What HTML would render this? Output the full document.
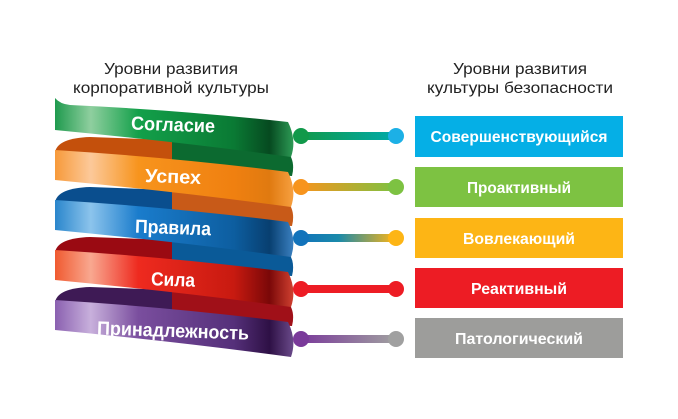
<!DOCTYPE html>
<html><head><meta charset="utf-8"><style>
html,body{margin:0;padding:0;background:#fff;width:678px;height:419px;overflow:hidden}
svg{display:block}
text{font-family:"Liberation Sans",sans-serif}
</style></head><body>
<svg width="678" height="419" viewBox="0 0 678 419" xmlns="http://www.w3.org/2000/svg">
<defs>
<linearGradient id="g0" x1="0" x2="1"><stop offset="0" stop-color="#1f9a4e"/><stop offset="0.15" stop-color="#8fcf9f"/><stop offset="0.35" stop-color="#13a04a"/><stop offset="0.75" stop-color="#0a7a34"/><stop offset="0.9" stop-color="#064a20"/><stop offset="1" stop-color="#2d9a55"/></linearGradient>
<linearGradient id="g1" x1="0" x2="1"><stop offset="0" stop-color="#f79a3a"/><stop offset="0.15" stop-color="#fcc99a"/><stop offset="0.35" stop-color="#f7941d"/><stop offset="0.75" stop-color="#f08010"/><stop offset="0.9" stop-color="#e07a10"/><stop offset="1" stop-color="#f7a040"/></linearGradient>
<linearGradient id="g2" x1="0" x2="1"><stop offset="0" stop-color="#2a86cc"/><stop offset="0.15" stop-color="#8cc4ec"/><stop offset="0.35" stop-color="#1a7ccc"/><stop offset="0.75" stop-color="#0d5ea0"/><stop offset="0.9" stop-color="#083f70"/><stop offset="1" stop-color="#3a80c0"/></linearGradient>
<linearGradient id="g3" x1="0" x2="1"><stop offset="0" stop-color="#f05a30"/><stop offset="0.15" stop-color="#f9a890"/><stop offset="0.35" stop-color="#ee2a1f"/><stop offset="0.75" stop-color="#c81a10"/><stop offset="0.9" stop-color="#7a0808"/><stop offset="1" stop-color="#d04030"/></linearGradient>
<linearGradient id="g4" x1="0" x2="1"><stop offset="0" stop-color="#8a60b0"/><stop offset="0.15" stop-color="#c8b0dc"/><stop offset="0.35" stop-color="#7a4e9e"/><stop offset="0.75" stop-color="#55307a"/><stop offset="0.9" stop-color="#2e1045"/><stop offset="1" stop-color="#6a4a8a"/></linearGradient>
<linearGradient id="l0" x1="0" x2="1"><stop offset="0" stop-color="#11994a"/><stop offset="1" stop-color="#0aa"/></linearGradient>
<linearGradient id="l1" x1="0" x2="1"><stop offset="0" stop-color="#f7941d"/><stop offset="1" stop-color="#7dc242"/></linearGradient>
<linearGradient id="l2" x1="0" x2="1"><stop offset="0" stop-color="#1273bb"/><stop offset="0.4" stop-color="#1a8aaa"/><stop offset="1" stop-color="#fdb515"/></linearGradient>
<linearGradient id="l3" x1="0" x2="1"><stop offset="0" stop-color="#ed1c24"/><stop offset="1" stop-color="#ed1c24"/></linearGradient>
<linearGradient id="l4" x1="0" x2="1"><stop offset="0" stop-color="#7a3a9a"/><stop offset="1" stop-color="#a0a0a0"/></linearGradient>
</defs>
<g font-size="16" fill="#222" text-anchor="middle" lengthAdjust="spacingAndGlyphs">
<text x="171" y="74" textLength="134" lengthAdjust="spacingAndGlyphs">Уровни развития</text>
<text x="171" y="93" textLength="196" lengthAdjust="spacingAndGlyphs">корпоративной культуры</text>
<text x="520" y="74" textLength="134" lengthAdjust="spacingAndGlyphs">Уровни развития</text>
<text x="520" y="93" textLength="186" lengthAdjust="spacingAndGlyphs">культуры безопасности</text>
</g>
<!-- back strips -->
<g>
<path d="M55,152 Q58,138 90,137 L172,140 L172,170 L55,165 Z" fill="#c4500c"/>
<path d="M172,130 L286,150 Q296,160 292,176 L172,170 Z" fill="#0c6a30"/>
<path d="M55,202 Q58,188 90,187 L172,190 L172,220 L55,215 Z" fill="#0a4e8e"/>
<path d="M172,180 L286,200 Q296,210 292,226 L172,220 Z" fill="#c85a18"/>
<path d="M55,252 Q58,238 90,237 L172,240 L172,270 L55,265 Z" fill="#9a0a12"/>
<path d="M172,230 L286,250 Q296,260 292,276 L172,270 Z" fill="#0a5a98"/>
<path d="M55,302 Q58,288 90,287 L172,290 L172,320 L55,315 Z" fill="#3e1a55"/>
<path d="M172,280 L286,300 Q296,310 292,326 L172,320 Z" fill="#a01018"/>
</g>
<!-- fronts -->
<path d="M55,98 Q60,104 70,105 Q180,110 288,122 Q297,140 291,157 Q180,142 55,130 Z" fill="url(#g0)"/>
<path d="M55,150 Q180,158 288,172 Q297,190 291,207 Q180,192 55,180 Z" fill="url(#g1)"/>
<path d="M55,200 Q180,208 288,222 Q297,240 291,257 Q180,242 55,230 Z" fill="url(#g2)"/>
<path d="M55,250 Q180,258 288,272 Q297,290 291,307 Q180,292 55,280 Z" fill="url(#g3)"/>
<path d="M55,300 Q180,308 288,322 Q297,340 291,357 Q180,342 55,330 Z" fill="url(#g4)"/>
<g font-size="19" font-weight="bold" fill="#fff" text-anchor="middle">
<text x="173" y="131" textLength="84" lengthAdjust="spacingAndGlyphs" transform="rotate(2 173 126)">Согласие</text>
<text x="173" y="183" textLength="56" lengthAdjust="spacingAndGlyphs" transform="rotate(2 173 178)">Успех</text>
<text x="173" y="234" textLength="76" lengthAdjust="spacingAndGlyphs" transform="rotate(2 173 229)">Правила</text>
<text x="173" y="286" textLength="44" lengthAdjust="spacingAndGlyphs" transform="rotate(2 173 281)">Сила</text>
<text x="173" y="337" textLength="152" lengthAdjust="spacingAndGlyphs" transform="rotate(2 173 332)">Принадлежность</text>
</g>
<!-- connectors -->
<g>
<rect x="300" y="132" width="96" height="8" fill="url(#l0)"/><circle cx="301" cy="136" r="8" fill="#11994a"/><circle cx="396" cy="136" r="8" fill="#1cb0e6"/>
<rect x="300" y="183" width="96" height="8" fill="url(#l1)"/><circle cx="301" cy="187" r="8" fill="#f7941d"/><circle cx="396" cy="187" r="8" fill="#7dc242"/>
<rect x="300" y="234" width="96" height="8" fill="url(#l2)"/><circle cx="301" cy="238" r="8" fill="#1273bb"/><circle cx="396" cy="238" r="8" fill="#fdb515"/>
<rect x="300" y="285" width="96" height="8" fill="url(#l3)"/><circle cx="301" cy="289" r="8" fill="#ed1c24"/><circle cx="396" cy="289" r="8" fill="#ed1c24"/>
<rect x="300" y="335" width="96" height="8" fill="url(#l4)"/><circle cx="301" cy="339" r="8" fill="#7a3a9a"/><circle cx="396" cy="339" r="8" fill="#a0a0a0"/>
</g>
<!-- boxes -->
<rect x="415" y="116" width="208" height="41" fill="#05afe6"/>
<rect x="415" y="167" width="208" height="40" fill="#7dc242"/>
<rect x="415" y="218" width="208" height="40" fill="#fdb515"/>
<rect x="415" y="268" width="208" height="40" fill="#ed1c24"/>
<rect x="415" y="318" width="208" height="40" fill="#9d9d9b"/>
<g font-size="16" font-weight="bold" fill="#fff" text-anchor="middle">
<text x="519" y="142" textLength="177" lengthAdjust="spacingAndGlyphs">Совершенствующийся</text>
<text x="519" y="193" textLength="104" lengthAdjust="spacingAndGlyphs">Проактивный</text>
<text x="519" y="244" textLength="112" lengthAdjust="spacingAndGlyphs">Вовлекающий</text>
<text x="519" y="294" textLength="96" lengthAdjust="spacingAndGlyphs">Реактивный</text>
<text x="519" y="344" textLength="128" lengthAdjust="spacingAndGlyphs">Патологический</text>
</g>
</svg>
</body></html>
